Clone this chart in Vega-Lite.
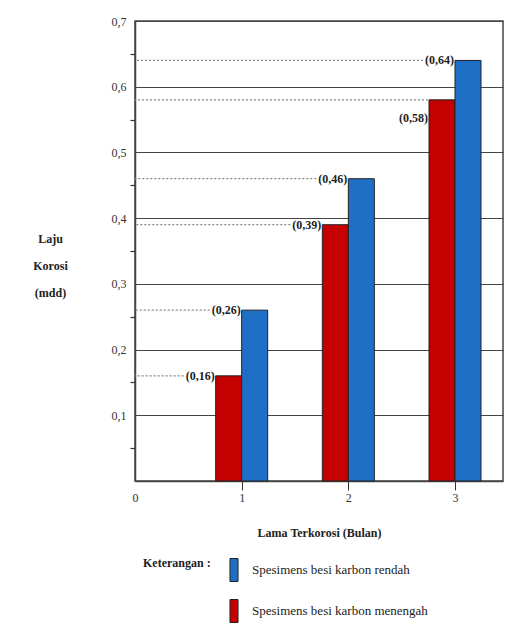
{
  "$schema": "https://vega.github.io/schema/vega-lite/v6.json",
  "width": 368,
  "height": 460,
  "autosize": {"type": "none"},
  "padding": {"left": 135, "top": 21, "right": 14, "bottom": 163},
  "background": "white",
  "config": {
    "font": "Liberation Serif",
    "view": {"stroke": "#444", "strokeWidth": 1.5},
    "axisX": {"labelFont": "Liberation Serif", "labelFontSize": 12, "labelColor": "#333", "domainColor": "#444", "domainWidth": 1.5, "tickColor": "#333", "titleFont": "Liberation Serif", "titleFontSize": 12, "titleFontWeight": "bold", "titleColor": "#222"},
    "axisY": {"labelFont": "Liberation Serif", "labelFontSize": 12, "labelColor": "#333", "domainColor": "#444", "domainWidth": 1.5, "tickColor": "#333", "tickWidth": 1.2, "gridColor": "#444", "gridWidth": 1.2, "titleFont": "Liberation Serif", "titleFontSize": 12, "titleFontWeight": "bold", "titleColor": "#222"}
  },
  "data": {
    "values": [
      {"bulan": 1, "laju": 0.16, "jenis": "Spesimens besi karbon menengah", "label": "(0,16)"},
      {"bulan": 1, "laju": 0.26, "jenis": "Spesimens besi karbon rendah", "label": "(0,26)"},
      {"bulan": 2, "laju": 0.39, "jenis": "Spesimens besi karbon menengah", "label": "(0,39)"},
      {"bulan": 2, "laju": 0.46, "jenis": "Spesimens besi karbon rendah", "label": "(0,46)"},
      {"bulan": 3, "laju": 0.58, "jenis": "Spesimens besi karbon menengah", "label": "(0,58)"},
      {"bulan": 3, "laju": 0.64, "jenis": "Spesimens besi karbon rendah", "label": "(0,64)"}
    ]
  },
  "encoding": {
    "x": {"field": "bulan", "type": "quantitative", "scale": {"domain": [0, 3.45], "nice": false, "zero": false, "padding": 0}, "axis": {"values": [0, 1, 2, 3], "format": "d", "labelFlush": false, "grid": false, "tickSize": 9, "tickOpacity": {"condition": {"test": "datum.value == 0", "value": 0}, "value": 1}, "labelPadding": 2, "title": "Lama Terkorosi (Bulan)", "titleY": 51, "titleBaseline": "middle"}},
    "y": {"field": "laju", "type": "quantitative", "stack": null, "scale": {"domain": [0, 0.7], "nice": false, "zero": true}, "axis": {"values": [0.05, 0.1, 0.15, 0.2, 0.25, 0.3, 0.35, 0.4, 0.45, 0.5, 0.55, 0.6, 0.65, 0.7], "labelExpr": "round(datum.value * 20) % 2 == 1 ? '' : replace(format(datum.value, '.1f'), '.', ',')", "grid": true, "gridOpacity": {"condition": {"test": "round(datum.value * 20) % 2 == 1", "value": 0}, "value": 1}, "tickOpacity": {"condition": {"test": "round(datum.value * 20) % 2 == 1", "value": 1}, "value": 0}, "tickSize": 5, "labelPadding": 4, "title": ["Laju", "Korosi", "(mdd)"], "titleAngle": 0, "titleX": -85, "titleY": 212, "titleAlign": "center", "titleBaseline": "top", "titleLineHeight": 27}}
  },
  "layer": [
    {
      "transform": [{"filter": "datum.jenis == 'Spesimens besi karbon menengah' && datum.bulan < 3"}],
      "mark": {"type": "rule", "stroke": "#888", "strokeWidth": 1.2, "strokeDash": [2, 2], "xOffset": -58},
      "encoding": {"x2": {"datum": 0}}
    },
    {
      "transform": [{"filter": "datum.jenis == 'Spesimens besi karbon menengah' && datum.bulan == 3"}],
      "mark": {"type": "rule", "stroke": "#888", "strokeWidth": 1.2, "strokeDash": [2, 2], "xOffset": -27},
      "encoding": {"x2": {"datum": 0}}
    },
    {
      "transform": [{"filter": "datum.jenis == 'Spesimens besi karbon rendah'"}],
      "mark": {"type": "rule", "stroke": "#888", "strokeWidth": 1.2, "strokeDash": [2, 2], "xOffset": -32},
      "encoding": {"x2": {"datum": 0}}
    },
    {
      "transform": [{"filter": "datum.jenis == 'Spesimens besi karbon menengah'"}],
      "mark": {"type": "bar", "orient": "vertical", "width": 26, "xOffset": -13, "stroke": "#222", "strokeWidth": 1},
      "encoding": {
        "color": {
          "field": "jenis", "type": "nominal",
          "scale": {"domain": ["Spesimens besi karbon rendah", "Spesimens besi karbon menengah"], "range": ["#1f6fc6", "#c40000"]},
          "legend": {
            "orient": "none", "legendX": 8, "legendY": 537, "direction": "vertical",
            "title": "Keterangan :", "titleOrient": "left", "titleAnchor": "start", "titleBaseline": "top",
            "titleFont": "Liberation Serif", "titleFontSize": 12, "titleFontWeight": "bold", "titleColor": "#222", "titlePadding": 11,
            "symbolType": "M-0.35,-1L0.35,-1L0.35,1L-0.35,1Z", "symbolSize": 529,
            "symbolStrokeColor": "#222", "symbolStrokeWidth": 1, "symbolOpacity": 1,
            "labelFont": "Liberation Serif", "labelFontSize": 13, "labelColor": "#222", "labelOffset": 6, "rowPadding": 13, "labelLimit": 300
          }
        }
      }
    },
    {
      "transform": [{"filter": "datum.jenis == 'Spesimens besi karbon rendah'"}],
      "mark": {"type": "bar", "orient": "vertical", "width": 26, "xOffset": 13, "stroke": "#222", "strokeWidth": 1},
      "encoding": {"color": {"field": "jenis", "type": "nominal"}}
    },
    {
      "transform": [{"filter": "datum.jenis == 'Spesimens besi karbon menengah' && datum.bulan < 3"}],
      "mark": {"type": "text", "font": "Liberation Serif", "align": "right", "baseline": "middle", "dx": -27, "fontSize": 12, "fontWeight": "bold", "color": "#222"},
      "encoding": {"text": {"field": "label"}}
    },
    {
      "transform": [{"filter": "datum.jenis == 'Spesimens besi karbon menengah' && datum.bulan == 3"}],
      "mark": {"type": "text", "font": "Liberation Serif", "align": "right", "baseline": "middle", "dx": -27, "dy": 18, "fontSize": 12, "fontWeight": "bold", "color": "#222"},
      "encoding": {"text": {"field": "label"}}
    },
    {
      "transform": [{"filter": "datum.jenis == 'Spesimens besi karbon rendah'"}],
      "mark": {"type": "text", "font": "Liberation Serif", "align": "right", "baseline": "middle", "dx": -1, "fontSize": 12, "fontWeight": "bold", "color": "#222"},
      "encoding": {"text": {"field": "label"}}
    }
  ]
}
